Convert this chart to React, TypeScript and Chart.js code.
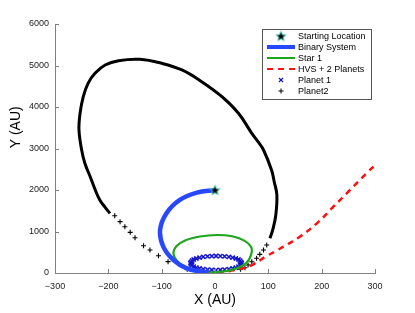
import React, { useEffect, useRef } from "react";
import { Chart, registerables } from "chart.js";
Chart.register(...registerables);

// ---- axis ticks ----
const xTicks = [-300, -200, -100, 0, 100, 200, 300];
const yTicks = [0, 1000, 2000, 3000, 4000, 5000, 6000];
const xTitle = "X (AU)";
const yTitle = "Y (AU)";

// ---- series ----
const startX = [0];
const startY = [2000];

const binaryX = [0, -34, -66, -91, -103, -97, -78, -53, -28, -12];
const binaryY = [2000, 1935, 1760, 1438, 1036, 634, 313, 113, 40, 22];

const star1X = [-28, -55, -72, -78, -72, -55, -28, 3, 32, 55, 67, 69, 64, 52, 30, 0, -28];
const star1Y = [8, 110, 300, 474, 650, 790, 880, 916, 885, 780, 640, 514, 330, 180, 70, 18, 8];

const hvsX = [5, 28, 50, 72, 94, 112, 128, 159, 191, 222, 253, 284, 300];
const hvsY = [0, 50, 105, 210, 390, 513, 634, 875, 1197, 1598, 2000, 2402, 2602];

const planet1X = [50, 49, 47, 44, 39, 33, 26, 18, 10, 2, -6, -14, -22, -29, -35, -40, -43, -45, -46, -45, -43, -40, -35, -29, -22, -14, -6, 2, 10, 18, 26, 33, 39, 44, 47, 49];
const planet1Y = [240, 270, 298, 325, 349, 370, 387, 400, 407, 410, 407, 400, 387, 370, 349, 325, 298, 270, 240, 210, 182, 155, 131, 110, 93, 80, 73, 70, 73, 80, 93, 110, 131, 155, 182, 210];

const planet2LoopX = [103, 109, 114, 116, 111, 106, 91, 81, 69, 44, 13, -25, -62, -100, -141, -181, -206, -225, -238, -247, -253, -255, -250, -244, -234, -225, -216, -206, -197];
const planet2LoopY = [836, 1077, 1398, 1880, 2200, 2482, 2964, 3157, 3366, 3848, 4248, 4610, 4892, 5053, 5149, 5116, 5012, 4812, 4571, 4248, 3848, 3446, 2964, 2643, 2320, 2017, 1759, 1583, 1438];

const planet2X = [48, 56, 62, 69, 78, 84, 91, 97, -188, -178, -169, -159, -150, -134, -122, -106, -88, -52];
const planet2Y = [90, 128, 193, 272, 354, 450, 554, 675, 1381, 1237, 1116, 980, 851, 658, 554, 417, 273, 89];

const legendLabels = ["Starting Location", "Binary System", "Star 1", "HVS + 2 Planets", "Planet 1", "Planet2"];

const zip = (xs: number[], ys: number[]) => xs.map((x, i) => ({ x, y: ys[i] }));

const BLUE = "#2848ff";
const GREEN = "#1ea51e";
const RED = "#ff1010";
const DBLUE = "#1414c8";
const AXIS = "#808080";
const FONT = '"Liberation Sans", Arial, Helvetica, sans-serif';

function makeStar(size: number) {
  const c = document.createElement("canvas");
  c.width = size;
  c.height = size;
  const g = c.getContext("2d")!;
  const cx = size / 2, cy = size / 2 + 0.5;
  const R = size / 2 - 1, r = R * 0.42;
  g.beginPath();
  for (let i = 0; i < 10; i++) {
    const a = -Math.PI / 2 + (i * Math.PI) / 5;
    const rad = i % 2 === 0 ? R : r;
    const px = cx + rad * Math.cos(a), py = cy + rad * Math.sin(a);
    if (i === 0) g.moveTo(px, py); else g.lineTo(px, py);
  }
  g.closePath();
  g.fillStyle = "#000";
  g.fill();
  g.strokeStyle = "#5fe0d0";
  g.lineWidth = 0.9;
  g.stroke();
  return c;
}

export default function App() {
  const ref = useRef<HTMLCanvasElement>(null);

  useEffect(() => {
    if (!ref.current) return;
    const starImg = makeStar(13);

    const inwardTicks = {
      id: "inwardTicks",
      afterDraw(chart: any) {
        const { ctx, chartArea, scales } = chart;
        ctx.save();
        ctx.strokeStyle = AXIS;
        ctx.lineWidth = 1;
        ctx.beginPath();
        xTicks.forEach((v) => {
          const px = Math.round(scales.x.getPixelForValue(v)) + 0.5;
          ctx.moveTo(px, chartArea.bottom);
          ctx.lineTo(px, chartArea.bottom - 4);
        });
        yTicks.forEach((v) => {
          const py = Math.round(scales.y.getPixelForValue(v)) + 0.5;
          ctx.moveTo(chartArea.left, py);
          ctx.lineTo(chartArea.left + 4, py);
        });
        ctx.stroke();
        // y axis title (placed slightly above the axis centre, as in the reference)
        ctx.fillStyle = "#000";
        ctx.font = `14px ${FONT}`;
        ctx.textAlign = "center";
        ctx.textBaseline = "middle";
        ctx.translate(16, chartArea.top + (chartArea.bottom - chartArea.top) * 0.415);
        ctx.rotate(-Math.PI / 2);
        ctx.fillText(yTitle, 0, 0);
        ctx.restore();
      },
    };

    const customLegend = {
      id: "customLegend",
      afterDraw(chart: any) {
        const { ctx, chartArea } = chart;
        const bw = 109, bh = 70;
        const bx = chartArea.right - 113, by = chartArea.top + 5;
        ctx.save();
        ctx.fillStyle = "#fff";
        ctx.fillRect(bx, by, bw, bh);
        ctx.strokeStyle = "#555";
        ctx.lineWidth = 1;
        ctx.strokeRect(bx + 0.5, by + 0.5, bw, bh);
        const x1 = bx + 5, x2 = bx + 33, xm = (x1 + x2) / 2;
        const rows = legendLabels.map((_, i) => by + 7 + i * 11);
        ctx.drawImage(starImg, xm - starImg.width / 2, rows[0] - starImg.height / 2);
        ctx.strokeStyle = BLUE; ctx.lineWidth = 4;
        ctx.beginPath(); ctx.moveTo(x1, rows[1]); ctx.lineTo(x2, rows[1]); ctx.stroke();
        ctx.strokeStyle = GREEN; ctx.lineWidth = 2;
        ctx.beginPath(); ctx.moveTo(x1, rows[2]); ctx.lineTo(x2, rows[2]); ctx.stroke();
        ctx.strokeStyle = RED; ctx.lineWidth = 2; ctx.setLineDash([6, 5]);
        ctx.beginPath(); ctx.moveTo(x1, rows[3]); ctx.lineTo(x2, rows[3]); ctx.stroke();
        ctx.setLineDash([]);
        ctx.strokeStyle = DBLUE; ctx.lineWidth = 1.2;
        ctx.beginPath();
        ctx.moveTo(xm - 2, rows[4] - 2); ctx.lineTo(xm + 2, rows[4] + 2);
        ctx.moveTo(xm - 2, rows[4] + 2); ctx.lineTo(xm + 2, rows[4] - 2);
        ctx.stroke();
        ctx.strokeStyle = "#000"; ctx.lineWidth = 1;
        ctx.beginPath();
        ctx.moveTo(xm - 2.5, rows[5]); ctx.lineTo(xm + 2.5, rows[5]);
        ctx.moveTo(xm, rows[5] - 2.5); ctx.lineTo(xm, rows[5] + 2.5);
        ctx.stroke();
        ctx.fillStyle = "#000";
        ctx.font = `9px ${FONT}`;
        ctx.textBaseline = "middle";
        ctx.textAlign = "left";
        legendLabels.forEach((t, i) => ctx.fillText(t, bx + 36, rows[i] + 0.5));
        ctx.restore();
      },
    };

    const chart = new Chart(ref.current, {
      type: "scatter",
      data: {
        datasets: [
          {
            label: legendLabels[0],
            data: zip(startX, startY),
            pointStyle: starImg as any,
            pointRadius: 6,
            showLine: false,
          },
          {
            label: legendLabels[1],
            data: zip(binaryX, binaryY),
            showLine: true,
            borderColor: BLUE,
            borderWidth: 4.5,
            pointRadius: 0,
            tension: 0.4,
          },
          {
            label: legendLabels[2],
            data: zip(star1X, star1Y),
            showLine: true,
            borderColor: GREEN,
            borderWidth: 2.2,
            pointRadius: 0,
            tension: 0.4,
          },
          {
            label: legendLabels[3],
            data: zip(hvsX, hvsY),
            showLine: true,
            borderColor: RED,
            borderWidth: 2.5,
            borderDash: [6, 5],
            pointRadius: 0,
            tension: 0.4,
          },
          {
            label: legendLabels[4],
            data: zip(planet1X, planet1Y),
            showLine: false,
            pointStyle: "crossRot",
            pointRadius: 3,
            borderColor: DBLUE,
            backgroundColor: DBLUE,
            borderWidth: 1.5,
          },
          {
            label: legendLabels[5],
            data: zip(planet2X, planet2Y),
            showLine: false,
            pointStyle: "cross",
            pointRadius: 2.5,
            borderColor: "#000",
            backgroundColor: "#000",
            borderWidth: 1.1,
          },
          {
            label: "Planet2 path",
            data: zip(planet2LoopX, planet2LoopY),
            showLine: true,
            borderColor: "#000",
            borderWidth: 3,
            pointRadius: 0,
            tension: 0.4,
          },
        ],
      },
      options: {
        responsive: false,
        animation: false,
        devicePixelRatio: 1,
        layout: { padding: { left: 0, top: 24, right: 40, bottom: 0 } },
        plugins: {
          legend: { display: false },
          tooltip: { enabled: false },
        },
        scales: {
          x: {
            type: "linear",
            min: -300,
            max: 300,
            afterBuildTicks: (s: any) => { s.ticks = xTicks.map((v) => ({ value: v })); },
            afterFit: (s: any) => { s.height = 40; },
            ticks: {
              padding: 8,
              color: "#222",
              font: { size: 9, family: FONT },
              callback: (v: any) => String(v).replace("-", "\u2212"),
            },
            grid: { display: false, drawTicks: false },
            border: { display: true, color: AXIS, width: 1 },
            title: {
              display: true,
              text: xTitle,
              color: "#000",
              font: { size: 14, family: FONT },
              padding: { top: 0, bottom: 4 },
            },
          },
          y: {
            type: "linear",
            min: 0,
            max: 6000,
            afterBuildTicks: (s: any) => { s.ticks = yTicks.map((v) => ({ value: v })); },
            afterFit: (s: any) => { s.width = 55; },
            ticks: {
              padding: 6,
              color: "#222",
              font: { size: 9, family: FONT },
              callback: (v: any) => String(v),
            },
            grid: { display: false, drawTicks: false },
            border: { display: true, color: AXIS, width: 1 },
            title: { display: false, text: yTitle },
          },
        },
      },
      plugins: [inwardTicks, customLegend],
    });
    return () => chart.destroy();
  }, []);

  return (
    <div style={{ position: "fixed", left: 0, top: 0, width: 415, height: 313, background: "#fff" }}>
      <canvas ref={ref} width={415} height={313} style={{ display: "block" }} />
    </div>
  );
}
